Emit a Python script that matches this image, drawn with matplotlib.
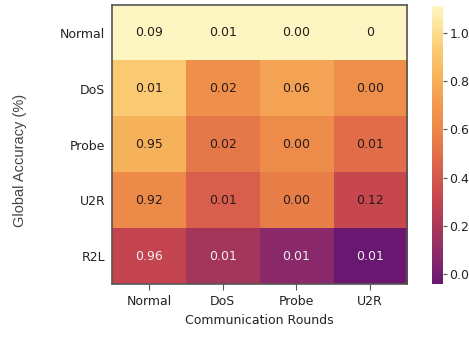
import matplotlib
matplotlib.use("Agg")
import matplotlib.pyplot as plt
import numpy as np
from matplotlib.colors import LinearSegmentedColormap

# heatmap data (colour values) and the printed annotations
rowLabels = ["Normal", "DoS", "Probe", "U2R", "R2L"]
colLabels = ["Normal", "DoS", "Probe", "U2R"]
colorValues = [
    [1.11, 1.11, 1.11, 1.11],
    [0.93, 0.65, 0.75, 0.64],
    [0.82, 0.535, 0.63, 0.49],
    [0.62, 0.43, 0.56, 0.32],
    [0.305, 0.18, 0.075, -0.04],
]
annotLabels = [
    ["0.09", "0.01", "0.00", "0"],
    ["0.01", "0.02", "0.06", "0.00"],
    ["0.95", "0.02", "0.00", "0.01"],
    ["0.92", "0.01", "0.00", "0.12"],
    ["0.96", "0.01", "0.01", "0.01"],
]
cbarTicks = [0.0, 0.2, 0.4, 0.6, 0.8, 1.0]

# washed-out inferno-like palette sampled from the original figure
cmap = LinearSegmentedColormap.from_list("fadedInferno", [
    (0.00, "#681870"),
    (0.10, "#8a2a6a"),
    (0.20, "#a8385a"),
    (0.30, "#c4444f"),
    (0.45, "#df6a4a"),
    (0.55, "#eb8648"),
    (0.65, "#f29a4e"),
    (0.75, "#f7b35c"),
    (0.85, "#fbcc74"),
    (0.93, "#fde49a"),
    (1.00, "#fef6c2"),
])
data = np.array(colorValues)

fig = plt.figure(figsize=(4.69, 3.37), dpi=100)
ax = fig.add_axes([0.239, 0.157, 0.629, 0.828])
cax = fig.add_axes([0.921, 0.157, 0.0235, 0.825])

im = ax.imshow(data, cmap=cmap, aspect="auto",
               vmin=data.min(), vmax=data.max())

for i in range(len(rowLabels)):
    for j in range(len(colLabels)):
        textColor = "#f4eef4" if i == len(rowLabels) - 1 else "#2a1a1a"
        ax.text(j, i, annotLabels[i][j], ha="center", va="center",
                fontsize=9, color=textColor)

ax.set_xticks(range(len(colLabels)))
ax.set_xticklabels(colLabels, fontsize=9, color="#222222")
ax.set_yticks(range(len(rowLabels)))
ax.set_yticklabels(rowLabels, fontsize=9, color="#222222")
ax.tick_params(axis="x", length=4, color="#555555")
ax.tick_params(axis="y", length=0, pad=5)
for spine in ax.spines.values():
    spine.set_color("#555555")
    spine.set_linewidth(1.2)

ax.set_xlabel("Communication Rounds", fontsize=9, color="#222222", labelpad=5)
ax.set_ylabel("Global Accuracy (%)", fontsize=10.5, color="#444444",
              family="Liberation Sans")
ax.yaxis.set_label_coords(-0.29, 0.444)

cbar = fig.colorbar(im, cax=cax, ticks=cbarTicks)
cbar.outline.set_visible(False)
cbar.ax.tick_params(labelsize=9, length=3, pad=1.5, color="#555555",
                    labelcolor="#222222")
cbar.ax.set_yticklabels(["%.1f" % t for t in cbarTicks])

plt.savefig("out.png", dpi=100)
plt.close()
